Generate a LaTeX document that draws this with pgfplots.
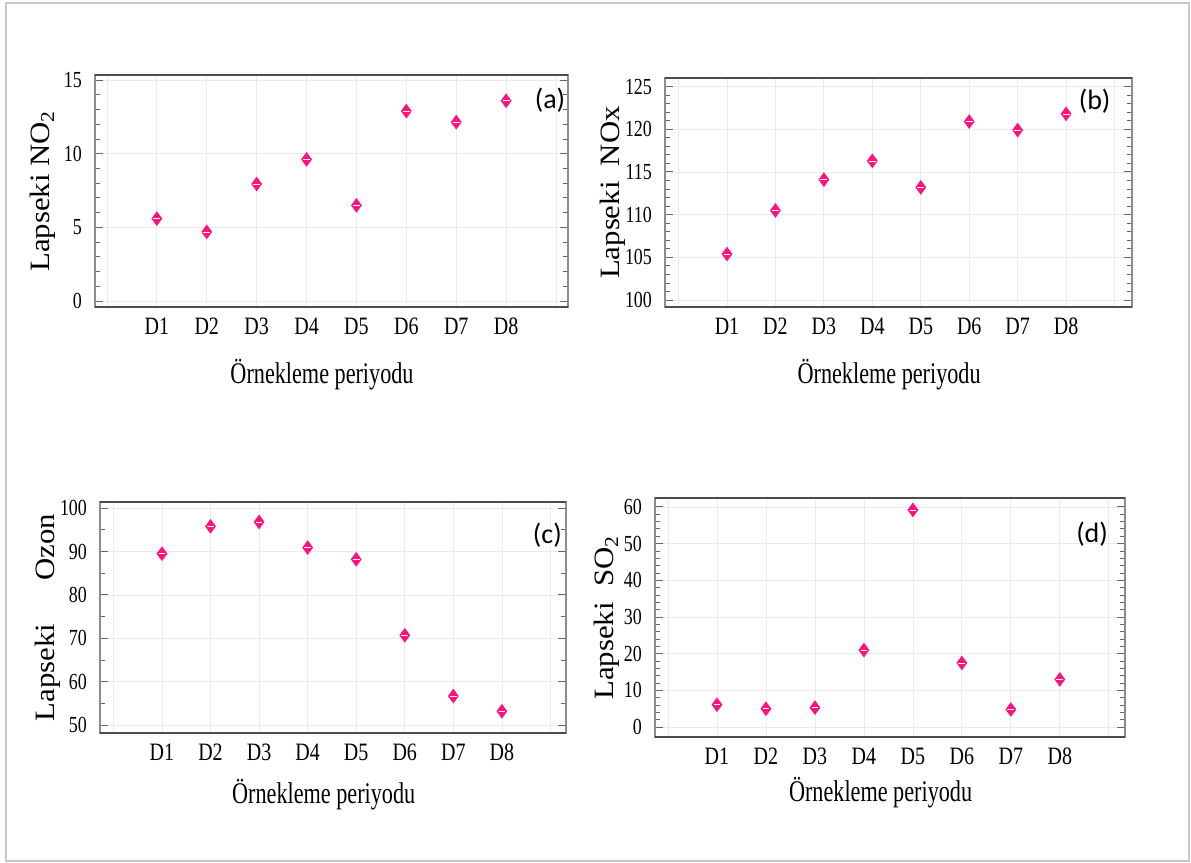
\documentclass[border=0pt]{standalone}
\usepackage{pgfplots}
\pgfplotsset{compat=1.18}
\usepackage{fontspec}
\setmainfont{Liberation Serif}
\newfontfamily\lblfont{Carlito}
\definecolor{dotpink}{RGB}{255,18,128}
\definecolor{framegray}{RGB}{200,200,200}

% filled diamond with a thin white bar through the middle
\pgfdeclareplotmark{wdiamond}{%
  \pgfpathmoveto{\pgfqpoint{0pt}{3.7pt}}%
  \pgfpathlineto{\pgfqpoint{2.7pt}{0pt}}%
  \pgfpathlineto{\pgfqpoint{0pt}{-3.7pt}}%
  \pgfpathlineto{\pgfqpoint{-2.7pt}{0pt}}%
  \pgfpathclose
  \pgfusepathqfill
  \pgfsetstrokecolor{white}%
  \pgfsetlinewidth{0.35pt}%
  \pgfpathmoveto{\pgfqpoint{-1.7pt}{0pt}}%
  \pgfpathlineto{\pgfqpoint{1.7pt}{0pt}}%
  \pgfusepathqstroke
}
\newcommand{\narrow}[1]{\scalebox{0.8}[1]{#1}}
\newcommand{\wide}[1]{\scalebox{1.1}[1]{#1}}

\pgfplotsset{
  panel/.style={
    scale only axis,
    xtick={0,...,9},
    xticklabels={{},\narrow{D1},\narrow{D2},\narrow{D3},\narrow{D4},\narrow{D5},\narrow{D6},\narrow{D7},\narrow{D8},{}},
    x tick style={draw=none},
    xticklabel style={font=\fontsize{12.5}{14}\selectfont, yshift=-2pt},
    yticklabel={\scalebox{0.78}[1]{\pgfmathprintnumber{\tick}}},
    yticklabel style={font=\fontsize{11.5}{13}\selectfont, xshift=-3pt},
    /pgf/number format/assume math mode=true,
    ytick pos=both,
    tick align=inside,
    major tick length=4pt,
    minor tick length=2.5pt,
    y tick style={black!60, line width=0.5pt},
    xmajorgrids, ymajorgrids,
    grid style={black!8, line width=0.4pt},
    axis line style={black!45, line width=0.6pt},
    xlabel={\scalebox{0.74}[1]{Örnekleme periyodu}},
    xlabel style={font=\fontsize{15}{17}\selectfont, at={(axis description cs:0.48,0)}, anchor=center},
    ylabel style={font=\fontsize{14}{16}\selectfont, at={(axis description cs:0,0.5)}, anchor=center, yshift=26pt},
    after end axis/.code={
      \draw[black!70, line width=1.1pt] (rel axis cs:0,0) -- (rel axis cs:1,0);
      \draw[black!70, line width=1.1pt] (rel axis cs:0,1) -- (rel axis cs:1,1);
    },
  },
  pts/.style={only marks, mark=wdiamond, mark options={fill=dotpink, draw=none}},
}

\begin{document}
\begin{tikzpicture}
\useasboundingbox (0,0) rectangle (595.5pt,431.5pt);
\draw[framegray, line width=1pt] (3pt,1pt) rectangle (594.5pt,430pt);

% (a) NO2
\begin{axis}[panel, at={(47.5pt,278pt)}, anchor=south west,
  width=236.5pt, height=116pt,
  xmin=-0.24, xmax=9.24, ymin=-0.4, ymax=15.35,
  ytick={0,5,10,15}, minor ytick={1,2,3,4,6,7,8,9,11,12,13,14},
  ylabel={\wide{Lapseki NO\textsubscript{2}}},
  xlabel style={yshift=-34pt}]
\addplot[pts] coordinates {(1,5.6) (2,4.7) (3,7.95) (4,9.62) (5,6.5) (6,12.9) (7,12.15) (8,13.6)};
\node[font=\lblfont\fontsize{14}{16}\selectfont] at (rel axis cs:0.962,0.89) {(a)};
\end{axis}

% (b) NOx
\begin{axis}[panel, at={(332.5pt,278pt)}, anchor=south west,
  width=233.5pt, height=114.5pt,
  xmin=-0.28, xmax=9.36, ymin=99.2, ymax=126,
  ytick={100,105,...,125}, minor ytick={101,...,124},
  ylabel={\wide{Lapseki\ \ NOx}},
  xlabel style={yshift=-34pt}]
\addplot[pts] coordinates {(1,105.4) (2,110.5) (3,114.1) (4,116.3) (5,113.2) (6,120.9) (7,119.9) (8,121.8)};
\node[font=\lblfont\fontsize{14}{16}\selectfont] at (rel axis cs:0.92,0.9) {(b)};
\end{axis}

% (c) Ozon
\begin{axis}[panel, at={(50pt,65pt)}, anchor=south west,
  width=233pt, height=115.5pt,
  xmin=-0.276, xmax=9.32, ymin=48.2, ymax=101.4,
  ytick={50,60,...,100}, minor ytick={55,65,...,95},
  ylabel={\wide{Lapseki\hspace{1.4em}Ozon}},
  xlabel style={yshift=-31pt}]
\addplot[pts] coordinates {(1,89.5) (2,95.8) (3,96.8) (4,90.9) (5,88.2) (6,70.7) (7,56.7) (8,53.2)};
\node[font=\lblfont\fontsize{14}{16}\selectfont] at (rel axis cs:0.96,0.857) {(c)};
\end{axis}

% (d) SO2
\begin{axis}[panel, at={(327.5pt,63pt)}, anchor=south west,
  width=235pt, height=119.5pt,
  xmin=-0.265, xmax=9.33, ymin=-2.7, ymax=62.45,
  ytick={0,10,...,60}, minor ytick={2,4,6,8,12,14,16,18,22,24,26,28,32,34,36,38,42,44,46,48,52,54,56,58},
  ylabel={\wide{Lapseki\ \ SO\textsubscript{2}}},
  ylabel style={yshift=-2pt},
  xlabel style={yshift=-28pt}]
\addplot[pts] coordinates {(1,6.1) (2,5.0) (3,5.3) (4,21.0) (5,59.2) (6,17.5) (7,4.8) (8,13.0)};
\node[font=\lblfont\fontsize{14}{16}\selectfont] at (rel axis cs:0.93,0.85) {(d)};
\end{axis}
\end{tikzpicture}
\end{document}
